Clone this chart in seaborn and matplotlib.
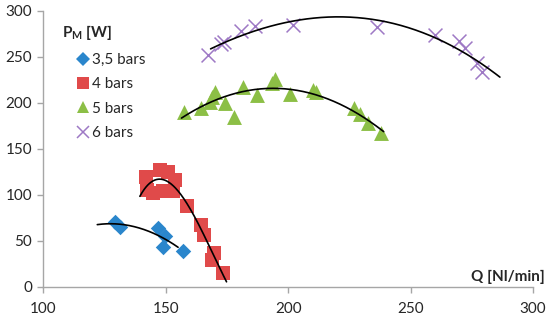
import numpy as np
import pandas as pd
import matplotlib
matplotlib.use("Agg")
import matplotlib.pyplot as plt
import seaborn as sns
from matplotlib.lines import Line2D

# ---- data ----
q_35 = [129.2, 131.3, 146.9, 149.6, 148.7, 157.1]
p_35 = [71, 65, 64, 55, 43, 39.5]

q_4 = [142.0, 147.6, 151.0, 153.7, 142.2, 144.9, 149.0, 153.0, 158.5, 164.3, 165.6, 169.8, 168.7, 173.4]
p_4 = [120, 127, 125, 116, 105, 102, 104, 104, 88, 67, 57, 37, 29, 15]

q_5 = [157.4, 164.2, 168.0, 169.0, 170.0, 174.1, 177.8, 181.6, 187.1, 193.2, 194.6, 200.7,
       210.2, 211.3, 227.0, 229.5, 232.5, 238.0]
p_5 = [190.5, 194, 201, 206, 212, 199.7, 185, 217, 208.7, 221.4, 225.8, 210,
       214, 212, 194, 188, 178, 167]

q_6 = [167.3, 172.6, 173.8, 180.6, 186.4, 202.0, 236.1, 259.9, 269.9, 272.2, 277.0, 279.0]
p_6 = [252, 264, 266, 278, 284, 285, 282, 274, 267, 259.5, 243, 234]

series_names = ["3,5 bars", "4 bars", "5 bars", "6 bars"]
trend_ranges = {"3,5 bars": (122, 155), "4 bars": (139.4, 174.8),
                "5 bars": (156.4, 239), "6 bars": (168.3, 286.5)}
trend_order = {"3,5 bars": 2, "4 bars": 3, "5 bars": 2, "6 bars": 3}

x_ticks = [100, 150, 200, 250, 300]
y_ticks = [0, 50, 100, 150, 200, 250, 300]

# ---- style ----
colors = {"3,5 bars": "#2A86CC", "4 bars": "#E04A4A", "5 bars": "#8CBF46", "6 bars": "#9E79C5"}
markers = {"3,5 bars": "D", "4 bars": "s", "5 bars": "^", "6 bars": "x"}
sizes = {"3,5 bars": 62, "4 bars": 100, "5 bars": 115, "6 bars": 100}

sns.set_theme(style="white")
plt.rcParams["font.family"] = ["Lato", "DejaVu Sans"]
plt.rcParams["mathtext.fontset"] = "custom"
plt.rcParams["mathtext.rm"] = "Lato"
plt.rcParams["mathtext.bf"] = "Lato:bold"

frames = []
for name, q, p in zip(series_names, [q_35, q_4, q_5, q_6], [p_35, p_4, p_5, p_6]):
    frames.append(pd.DataFrame({"Q": q, "P": p, "series": name}))
df = pd.concat(frames, ignore_index=True)

fig = plt.figure(figsize=(5.5, 3.21), dpi=100)
ax = fig.add_axes([0.079, 0.106, 0.890, 0.860])

for name in series_names:
    sub = df[df["series"] == name]
    kw = dict(linewidth=0) if markers[name] != "x" else dict(linewidth=1.1)
    sns.scatterplot(data=sub, x="Q", y="P", ax=ax, color=colors[name],
                    marker=markers[name], s=sizes[name], legend=False, zorder=2, **kw)
    coef = np.polyfit(sub["Q"], sub["P"], trend_order[name])
    lo, hi = trend_ranges[name]
    xs = np.linspace(lo, hi, 200)
    ax.plot(xs, np.polyval(coef, xs), color="black", lw=1.2, zorder=3)

ax.set_xlim(100, 300)
ax.set_ylim(0, 300)
ax.set_xticks(x_ticks)
ax.set_yticks(y_ticks)
ax.set_xlabel("")
ax.set_ylabel("")
for s in ["top", "right"]:
    ax.spines[s].set_visible(False)
for s in ["left", "bottom"]:
    ax.spines[s].set_color("#A6A6A6")
    ax.spines[s].set_linewidth(1.0)
ax.tick_params(axis="both", direction="out", length=4, width=1, color="#A6A6A6",
               labelsize=11, labelcolor="#262626")
ax.tick_params(axis="x", pad=7, bottom=True)
ax.tick_params(axis="y", pad=4, left=True)

fig.text(0.113, 1 - 32 / 321, r"$\mathbf{P_M}$ [W]", fontsize=11, fontweight="bold",
         ha="left", va="center", color="#262626")
fig.text(0.991, 0.137, "Q [Nl/min]", fontsize=11, fontweight="bold",
         ha="right", va="center", color="#262626")

handles = []
for name in series_names:
    if markers[name] == "x":
        h = Line2D([], [], linestyle="none", marker="x", color=colors[name],
                   markersize=9, markeredgewidth=1.1)
    else:
        h = Line2D([], [], linestyle="none", marker=markers[name], color=colors[name],
                   markersize=8.5 if name != "3,5 bars" else 7, markeredgewidth=0)
    handles.append(h)
leg = fig.legend(handles, series_names, loc="upper left",
                 bbox_to_anchor=(77 / 550, 1 - 53 / 321), frameon=False,
                 fontsize=11, handlelength=0.8, handletextpad=0.15,
                 labelspacing=0.68, borderpad=0, borderaxespad=0)
for t in leg.get_texts():
    t.set_color("#262626")

fig.savefig("out.png", dpi=100)
